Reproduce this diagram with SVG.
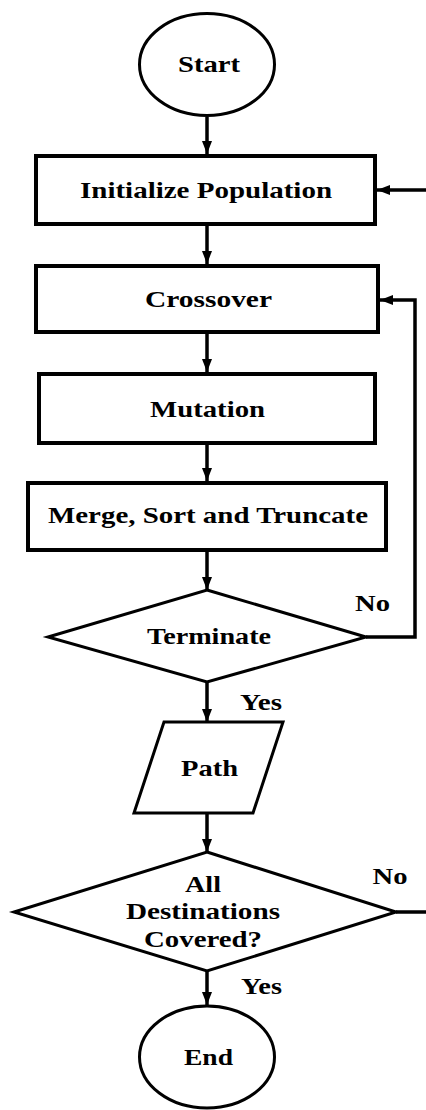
<svg xmlns="http://www.w3.org/2000/svg" width="426" height="1110" viewBox="0 0 426 1110">
<style>
.shape{fill:#fff;stroke:#000;stroke-width:3}
.box{fill:#fff;stroke:#000;stroke-width:4}
.lbl{font-family:"Liberation Serif","Times New Roman",serif;font-weight:bold;font-size:24px;fill:#000;text-anchor:middle}
.edge{fill:none;stroke:#000;stroke-width:3.5}
</style>
<defs>
<marker id="ah" markerUnits="userSpaceOnUse" markerWidth="13" markerHeight="10" refX="13" refY="5" orient="auto">
<path d="M0,0 L13,5 L0,10 Z" fill="#000"/>
</marker>
</defs>
<rect width="426" height="1110" fill="#fff"/>
<g id="connectors">
<path class="edge" d="M207,117 V154" marker-end="url(#ah)"/>
<path class="edge" d="M207,226 V264" marker-end="url(#ah)"/>
<path class="edge" d="M207,334 V372" marker-end="url(#ah)"/>
<path class="edge" d="M207,445 V481" marker-end="url(#ah)"/>
<path class="edge" d="M207,552 V590" marker-end="url(#ah)"/>
<path class="edge" d="M207,682 V722" marker-end="url(#ah)"/>
<path class="edge" d="M207,814 V852" marker-end="url(#ah)"/>
<path class="edge" d="M207,971 V1005" marker-end="url(#ah)"/>
<path class="edge" d="M366,637 H415 V300 H380" marker-end="url(#ah)"/>
<path class="edge" d="M396,912 H430 V190 H377" marker-end="url(#ah)"/>
<text class="lbl" x="372.5" y="611" textLength="35" lengthAdjust="spacingAndGlyphs">No</text>
<text class="lbl" x="261" y="710" textLength="42" lengthAdjust="spacingAndGlyphs">Yes</text>
<text class="lbl" x="390" y="884" textLength="35" lengthAdjust="spacingAndGlyphs">No</text>
<text class="lbl" x="261.5" y="994" textLength="41" lengthAdjust="spacingAndGlyphs">Yes</text>
</g>
<g id="start">
<ellipse class="shape" cx="207" cy="64.5" rx="67.5" ry="51"/>
<text class="lbl" x="209" y="72" textLength="62" lengthAdjust="spacingAndGlyphs">Start</text>
</g>
<g id="init">
<rect class="box" x="36" y="156" width="339" height="68"/>
<text class="lbl" x="206" y="198" textLength="252" lengthAdjust="spacingAndGlyphs">Initialize Population</text>
</g>
<g id="crossover">
<rect class="box" x="36" y="266" width="342" height="66"/>
<text class="lbl" x="208.5" y="307" textLength="127" lengthAdjust="spacingAndGlyphs">Crossover</text>
</g>
<g id="mutation">
<rect class="box" x="39" y="374" width="336" height="69"/>
<text class="lbl" x="207.5" y="417" textLength="115" lengthAdjust="spacingAndGlyphs">Mutation</text>
</g>
<g id="merge">
<rect class="box" x="28" y="483" width="358" height="67"/>
<text class="lbl" x="208" y="523" textLength="320" lengthAdjust="spacingAndGlyphs">Merge, Sort and Truncate</text>
</g>
<g id="terminate">
<polygon class="shape" points="207,590 366,637 207,682 48,637"/>
<text class="lbl" x="209" y="644" textLength="124" lengthAdjust="spacingAndGlyphs">Terminate</text>
</g>
<g id="path">
<polygon class="shape" points="164,722 283,722 253,813 134,813"/>
<text class="lbl" x="209.5" y="776" textLength="57" lengthAdjust="spacingAndGlyphs">Path</text>
</g>
<g id="covered">
<polygon class="shape" points="207,852 396,912 207,971 14,912"/>
<text class="lbl" x="203" y="892" textLength="36" lengthAdjust="spacingAndGlyphs">All</text>
<text class="lbl" x="203" y="919" textLength="154" lengthAdjust="spacingAndGlyphs">Destinations</text>
<text class="lbl" x="203" y="947" textLength="118" lengthAdjust="spacingAndGlyphs">Covered?</text>
</g>
<g id="end">
<ellipse class="shape" cx="207" cy="1057" rx="67.5" ry="51"/>
<text class="lbl" x="208.5" y="1065" textLength="49" lengthAdjust="spacingAndGlyphs">End</text>
</g>
</svg>
